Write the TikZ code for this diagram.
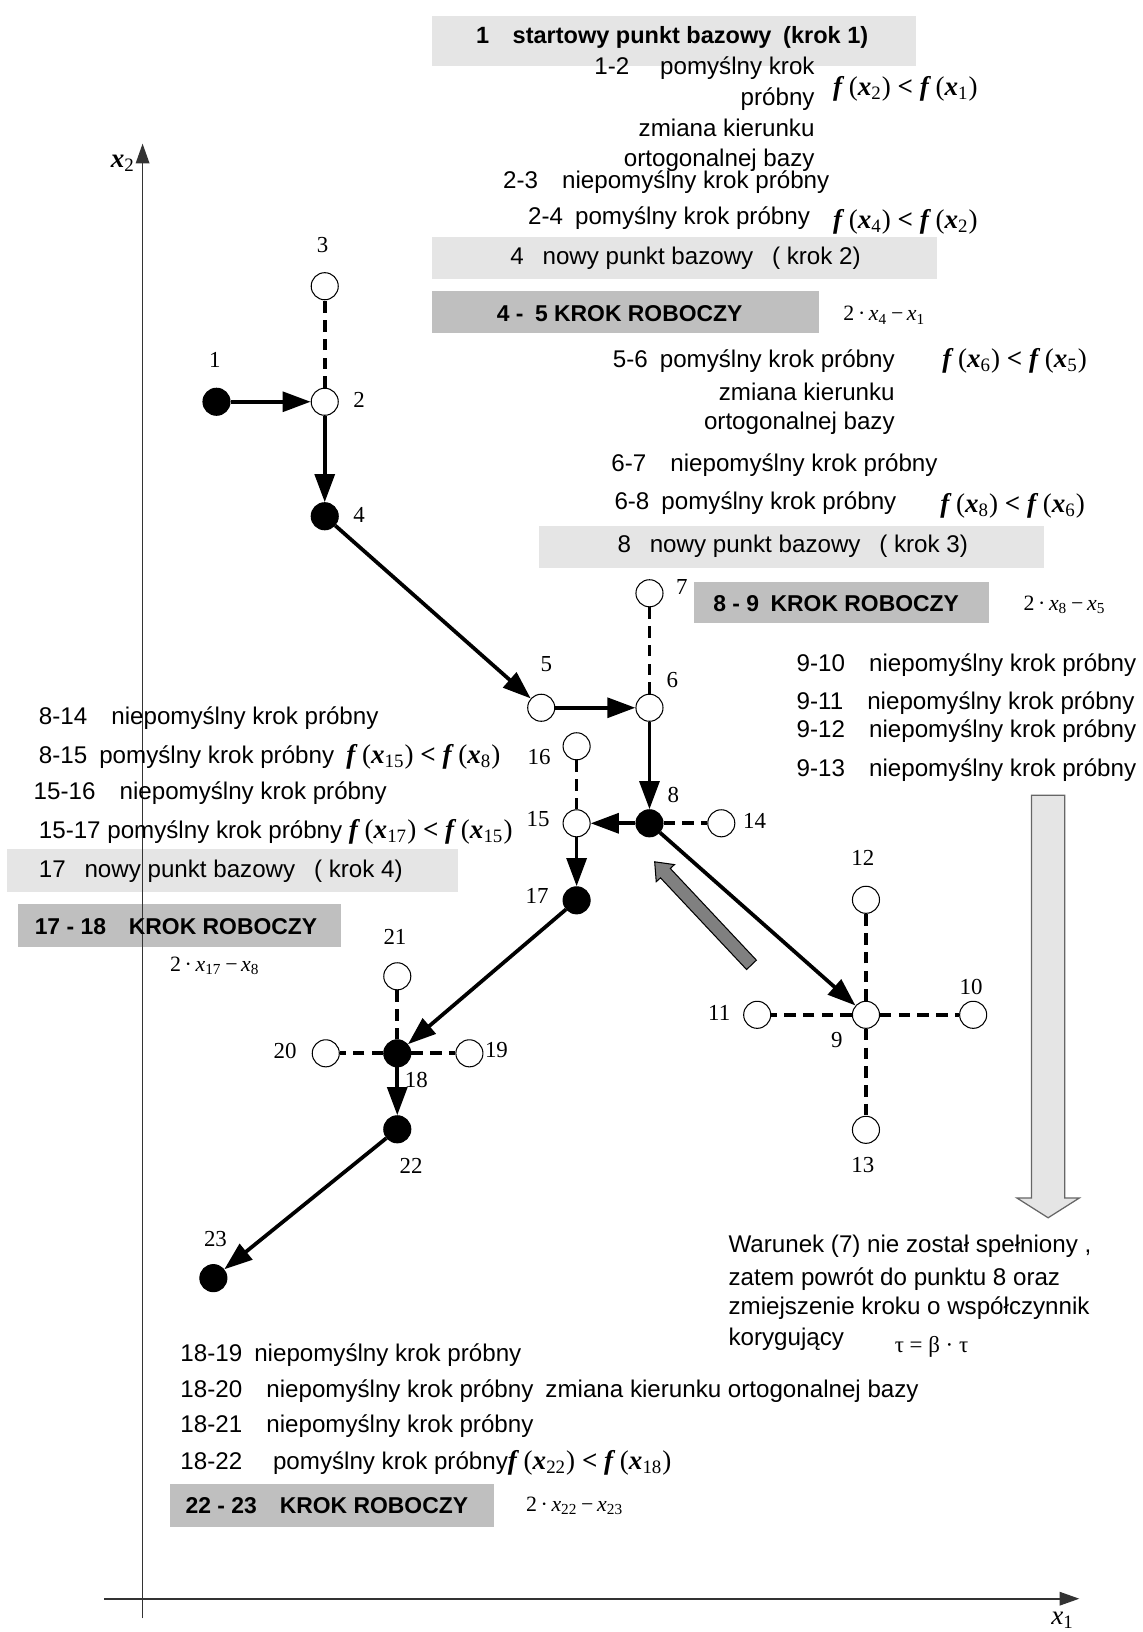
\documentclass[tikz,border=0pt]{standalone}
\usepackage{fontspec}
\setmainfont{Liberation Sans}
\newfontfamily\numfont{Liberation Serif}
\usetikzlibrary{arrows.meta}
\definecolor{lightbox}{gray}{0.9}
\definecolor{darkbox}{gray}{0.75}
\definecolor{blockgray}{gray}{0.5}
\newcommand\bx{\textbf{\textit{x}}}
\newcommand\fcmp[2]{{\numfont\fontsize{13}{15}\selectfont\textbf{\textit{f}}\,(\bx\textsubscript{#1})\hspace{0.25em}\textbf{<}\hspace{0.25em}\textbf{\textit{f}}\,(\bx\textsubscript{#2})}}
\newcommand\work[2]{{\numfont\fontsize{10.5}{12}\selectfont 2\,·\,\textit{x}\textsubscript{#1}\,−\,\textit{x}\textsubscript{#2}}}

\begin{document}
\begin{tikzpicture}[x=0.5pt, y=-0.5pt, line cap=butt, line join=miter,
  point/.style={circle, draw, line width=0.5pt, minimum size=13pt, inner sep=0pt},
  open point/.style={point, fill=white},
  full point/.style={point, fill=black},
  move/.style={line width=1.8pt, -{Triangle[length=13.5pt, width=9.5pt]}},
  trial/.style={line width=1.8pt, dash pattern=on 5.5pt off 3.5pt},
  axis/.style={line width=0.8pt, draw=black!80, -{Triangle[length=9.5pt, width=6.5pt]}},
  num/.style={font=\numfont\fontsize{11}{13}\selectfont, inner sep=0pt},
  txt/.style={font=\fontsize{11.6}{14}\selectfont, inner sep=0pt},
  boldtxt/.style={font=\fontsize{11}{14}\selectfont\bfseries, inner sep=0pt}]
		\useasboundingbox (0,0) rectangle (1098,1568);
		
		%Boxes
		\fill[lightbox] (415,15) rectangle (880,63);
		\fill[lightbox] (415,228) rectangle (900,268);
		\fill[darkbox] (415,280) rectangle (787,320);
		\fill[lightbox] (518,505) rectangle (1003,546);
		\fill[darkbox] (667,559) rectangle (950,599);
		\fill[lightbox] (7,816) rectangle (440,857);
		\fill[darkbox] (17,869) rectangle (328,910);
		\fill[darkbox] (163,1426) rectangle (475,1467);
		
		%Axes
		\coordinate (ybot) at (137,1555);
		\coordinate (ytop) at (137,138);
		\coordinate (xleft) at (100,1536);
		\coordinate (xright) at (1037,1536);
		\draw[axis] (ybot) -- (ytop);
		\draw[axis] (xleft) -- (xright);
		\node[num, font=\numfont\fontsize{13}{15}\selectfont] (x2) at (118,157) {\bx\textsubscript{2}};
		\node[num, font=\numfont\fontsize{13}{15}\selectfont] (x1) at (1021,1557) {\textit{x}\textsubscript{1}};
		
		%Block arrows
		\draw[fill=blockgray, line width=0.5pt] (726.7,922.5) -- (644.0,834.4) -- (648.0,830.7) -- (629,828)
			-- (630.5,847.1) -- (634.6,843.4) -- (717.3,931.5) -- cycle;
		\draw[fill=lightbox, draw=black!60, line width=0.6pt] (991,764) -- (991,1151) -- (977,1151) -- (1007,1170)
			-- (1037,1151) -- (1023,1151) -- (1023,764) -- cycle;
		
		%Points
		\node[full point] (p1) at (208,386) {};
		\node[open point] (p2) at (312,386) {};
		\node[open point] (p3) at (312,275) {};
		\node[full point] (p4) at (312,496) {};
		\node[open point] (p5) at (520,680) {};
		\node[open point] (p6) at (624,680) {};
		\node[open point] (p7) at (624,570) {};
		\node[full point] (p8) at (624,791) {};
		\node[open point] (p9) at (832,975) {};
		\node[open point] (p10) at (935,975) {};
		\node[open point] (p11) at (727.5,975) {};
		\node[open point] (p12) at (832,864.5) {};
		\node[open point] (p13) at (832,1085.5) {};
		\node[open point] (p14) at (693,791) {};
		\node[open point] (p15) at (554,791) {};
		\node[open point] (p16) at (554,717) {};
		\node[full point] (p17) at (554,865) {};
		\node[full point] (p18) at (381.7,1012) {};
		\node[open point] (p19) at (451,1012) {};
		\node[open point] (p20) at (313,1012) {};
		\node[open point] (p21) at (381.7,938) {};
		\node[full point] (p22) at (381.7,1085) {};
		\node[full point] (p23) at (205,1228) {};
		
		%Trial steps
		\draw[trial] (p2) -- (p3);
		\draw[trial] (p6) -- (p7);
		\draw[trial] (p8) -- (p14);
		\draw[trial] (p15) -- (p16);
		\draw[trial] (p9) -- (p10);
		\draw[trial] (p9) -- (p11);
		\draw[trial] (p9) -- (p12);
		\draw[trial] (p9) -- (p13);
		\draw[trial] (p18) -- (p19);
		\draw[trial] (p18) -- (p20);
		\draw[trial] (p18) -- (p21);
		
		%Moves
		\draw[move] (p1) -- (p2);
		\draw[move] (p2) -- (p4);
		\draw[move] (p4) -- (p5);
		\draw[move] (p5) -- (p6);
		\draw[move] (p6) -- (p8);
		\draw[move] (p8) -- (p15);
		\draw[move] (p15) -- (p17);
		\draw[move] (p8) -- (p9);
		\draw[move] (p17) -- (p18);
		\draw[move] (p18) -- (p22);
		\draw[move] (p22) -- (p23);
		
		%Point labels
		\node[num] (l1) at (206.5,346) {1};
		\node[num] (l2) at (345,384) {2};
		\node[num] (l3) at (310,235) {3};
		\node[num] (l4) at (345,495) {4};
		\node[num] (l5) at (525,638) {5};
		\node[num] (l6) at (646,653) {6};
		\node[num] (l7) at (655,564) {7};
		\node[num] (l8) at (647,764) {8};
		\node[num] (l9) at (804,999) {9};
		\node[num] (l10) at (933,948) {10};
		\node[num] (l11) at (691,973) {11};
		\node[num] (l12) at (829,824.5) {12};
		\node[num] (l13) at (829,1119) {13};
		\node[num] (l14) at (725,789) {14};
		\node[num] (l15) at (517,787) {15};
		\node[num] (l16) at (518,727) {16};
		\node[num] (l17) at (516,861) {17};
		\node[num] (l18) at (400,1037.5) {18};
		\node[num] (l19) at (477,1009) {19};
		\node[num] (l20) at (274,1010) {20};
		\node[num] (l21) at (379.5,900) {21};
		\node[num] (l22) at (395,1120) {22};
		\node[num] (l23) at (207,1190) {23};
		
		%Step 1 and 2
		\node[boldtxt, font=\fontsize{11.3}{14}\selectfont\bfseries, anchor=west] (t1) at (457,36) {1\quad startowy punkt bazowy\enspace(krok 1)};
		\node[txt, anchor=east] (t12a) at (783,65.6) {1-2\quad\ pomyślny krok};
		\node[txt, anchor=east] (t12b) at (783,95.4) {próbny};
		\node[txt, anchor=east] (t12c) at (783,123.3) {zmiana kierunku};
		\node[txt, anchor=east] (t12d) at (783,153.7) {ortogonalnej bazy};
		\node[anchor=west, inner sep=0pt] (f12) at (800,85) {\fcmp{2}{1}};
		\node[txt, anchor=west] (t23) at (483,174.5) {2-3\quad niepomyślny krok próbny};
		\node[txt, anchor=west] (t24) at (507,209.7) {2-4\enspace pomyślny krok próbny};
		\node[anchor=west, inner sep=0pt] (f24) at (800,213) {\fcmp{4}{2}};
		\node[txt, anchor=west] (t4) at (490,248) {4\enspace\ nowy punkt bazowy\enspace\ ( krok 2)};
		\node[boldtxt, anchor=west] (t45) at (477,301) {4 -\enspace5 KROK ROBOCZY};
		\node[anchor=west, inner sep=0pt] (w45) at (810,303) {\work{4}{1}};
		
		%Step 3
		\node[txt, anchor=east] (t56a) at (860,347.4) {5-6\enspace pomyślny krok próbny};
		\node[txt, anchor=east] (t56b) at (860,376.3) {zmiana kierunku};
		\node[txt, anchor=east] (t56c) at (860,406.7) {ortogonalnej bazy};
		\node[anchor=west, inner sep=0pt] (f56) at (905,347) {\fcmp{6}{5}};
		\node[txt, anchor=west] (t67) at (587,446.7) {6-7\quad niepomyślny krok próbny};
		\node[txt, anchor=west] (t68) at (590,483.5) {6-8\enspace pomyślny krok próbny};
		\node[anchor=west, inner sep=0pt] (f68) at (903,486) {\fcmp{8}{6}};
		\node[txt, anchor=west] (t8) at (593,525) {8\enspace\ nowy punkt bazowy\enspace\ ( krok 3)};
		\node[boldtxt, anchor=west] (t89) at (685,580) {8 - 9\enspace KROK ROBOCZY};
		\node[anchor=west, inner sep=0pt] (w89) at (983,581) {\work{8}{5}};
		\node[txt, anchor=west] (t910) at (765,638.8) {9-10\quad niepomyślny krok próbny};
		\node[txt, anchor=west] (t911) at (765,675.6) {9-11\quad niepomyślny krok próbny};
		\node[txt, anchor=west] (t912) at (765,702.9) {9-12\quad niepomyślny krok próbny};
		\node[txt, anchor=west] (t913) at (765,739.7) {9-13\quad niepomyślny krok próbny};
		
		%Step 4
		\node[txt, anchor=west] (t814) at (37,690) {8-14\quad niepomyślny krok próbny};
		\node[txt, anchor=west] (t815) at (37,727) {8-15\enspace pomyślny krok próbny\enspace\fcmp{15}{8}};
		\node[txt, anchor=west] (t1516) at (32,762) {15-16\quad niepomyślny krok próbny};
		\node[txt, anchor=west] (t1517) at (37,799) {15-17 pomyślny krok próbny \fcmp{17}{15}};
		\node[txt, anchor=west] (t17) at (37,837) {17\enspace\ nowy punkt bazowy\enspace\ ( krok 4)};
		\node[boldtxt, anchor=west] (t1718) at (33,890) {17 - 18\quad KROK ROBOCZY};
		\node[anchor=west, inner sep=0pt] (w1718) at (163,928) {\work{17}{8}};
		
		%Step 5
		\node[txt, anchor=west] (c1) at (699.6,1197.6) {Warunek (7) nie został spełniony ,};
		\node[txt, anchor=west] (c2) at (699.6,1229) {zatem powrót do punktu 8 oraz};
		\node[txt, anchor=west] (c3) at (699.6,1256.8) {zmiejszenie kroku o współczynnik};
		\node[txt, anchor=west] (c4) at (699.6,1287) {korygujący};
		\node[num] (tau) at (895,1293.6) {τ = β · τ};
		\node[txt, anchor=west] (t1819) at (173,1301.6) {18-19\enspace niepomyślny krok próbny};
		\node[txt, anchor=west] (t1820) at (173,1336.9) {18-20\quad niepomyślny krok próbny\enspace zmiana kierunku ortogonalnej bazy};
		\node[txt, anchor=west] (t1821) at (173,1370.5) {18-21\quad niepomyślny krok próbny};
		\node[txt, anchor=west] (t1822) at (173,1405.7) {18-22\quad\ pomyślny krok próbny\fcmp{22}{18}};
		\node[boldtxt, anchor=west] (t2223) at (178,1447) {22 - 23\quad KROK ROBOCZY};
		\node[anchor=west, inner sep=0pt] (w2223) at (505,1447) {\work{22}{23}};
		
	\end{tikzpicture}
\end{document}
